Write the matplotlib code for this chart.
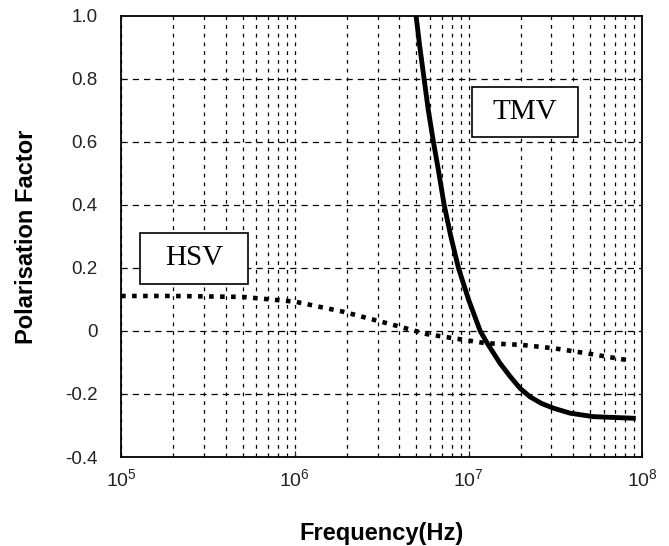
import matplotlib
matplotlib.use('Agg')
import matplotlib.pyplot as plt
from matplotlib.ticker import LogLocator, NullFormatter
from matplotlib.patches import Rectangle

plt.rcParams['font.family'] = ['Liberation Sans', 'DejaVu Sans']
plt.rcParams['mathtext.fontset'] = 'custom'
plt.rcParams['mathtext.rm'] = 'Liberation Sans'
plt.rcParams['mathtext.it'] = 'Liberation Sans'

# Curves (frequency in Hz)
tmv_freq = [4.99e6, 5.21e6, 5.55e6, 5.87e6, 6.28e6, 6.71e6, 7.24e6, 7.91e6,
            8.75e6, 1.0e7, 1.167e7, 1.285e7, 1.52e7, 1.74e7, 1.98e7, 2.26e7,
            2.63e7, 3.08e7, 3.85e7, 5.24e7, 8.89e7]
tmv_pf = [1.0, 0.913, 0.80, 0.70, 0.60, 0.51, 0.40, 0.30,
          0.20, 0.10, 0.0, -0.04, -0.103, -0.145, -0.182, -0.209,
          -0.23, -0.245, -0.261, -0.272, -0.277]

hsv_freq = [1e5, 2e5, 5.0e5, 1.0e6, 1.9e6, 3.7e6, 5.75e6, 1.26e7,
            2.0e7, 3.1e7, 4.8e7, 8.1e7]
hsv_pf = [0.111, 0.111, 0.108, 0.093, 0.061, 0.019, -0.010, -0.039,
          -0.044, -0.055, -0.071, -0.092]

yticks = [-0.4, -0.2, 0, 0.2, 0.4, 0.6, 0.8, 1.0]
ytick_labels = ['-0.4', '-0.2', '0', '0.2', '0.4', '0.6', '0.8', '1.0']
xticks = [1e5, 1e6, 1e7, 1e8]
xtick_labels = ['$10^5$', '$10^6$', '$10^7$', '$10^8$']

fig = plt.figure(figsize=(6.69, 5.46), dpi=100)
ax = fig.add_axes([0.181, 0.163, 0.779, 0.808])

ax.set_xscale('log')
ax.set_xlim(1e5, 1e8)
ax.set_ylim(-0.4, 1.0)

# grid: dashed horizontals, short-dash verticals at every 1..9 x decade
for y in yticks[1:-1]:
    ax.axhline(y, color='black', lw=0.9, ls=(0, (5, 4)), zorder=1)
ax.xaxis.set_minor_locator(LogLocator(base=10, subs=range(2, 10)))
ax.xaxis.set_minor_formatter(NullFormatter())
ax.grid(True, which='both', axis='x', color='black', lw=0.9,
        ls=(0, (3, 4)), zorder=1)

ax.plot(tmv_freq, tmv_pf, color='black', lw=3.5, zorder=3,
        solid_joinstyle='round')
ax.plot(hsv_freq, hsv_pf, color='black', lw=3.3,
        ls=(0, (1, 1.4)), zorder=3)

ax.set_yticks(yticks)
ax.set_yticklabels(ytick_labels)
ax.set_xticks(xticks)
ax.set_xticklabels(xtick_labels)
ax.tick_params(axis='y', length=0, pad=17, labelsize=13.5, colors='#222222')
ax.tick_params(axis='x', which='major', length=4, direction='in', pad=8,
               labelsize=14, colors='#222222')
ax.tick_params(axis='x', which='minor', length=3, direction='in')
for s in ax.spines.values():
    s.set_linewidth(1.3)

ax.set_xlabel('Frequency(Hz)', fontsize=17, fontweight='bold', labelpad=23)
ax.set_ylabel('Polarisation Factor', fontsize=17, fontweight='bold',
              labelpad=19)

# label boxes
for (x0, y0, w, h, label) in [(0.0365, 0.392, 0.2075, 0.116, 'HSV'),
                              (0.674, 0.726, 0.203, 0.113, 'TMV')]:
    ax.add_patch(Rectangle((x0, y0), w, h, transform=ax.transAxes,
                           facecolor='white', edgecolor='black', lw=1.2,
                           zorder=4))
    ax.text(x0 + w / 2, y0 + h / 2, label, transform=ax.transAxes,
            ha='center', va='center', fontsize=21,
            family=['Liberation Serif', 'DejaVu Serif'], zorder=5)

fig.savefig('out.png', dpi=100)
